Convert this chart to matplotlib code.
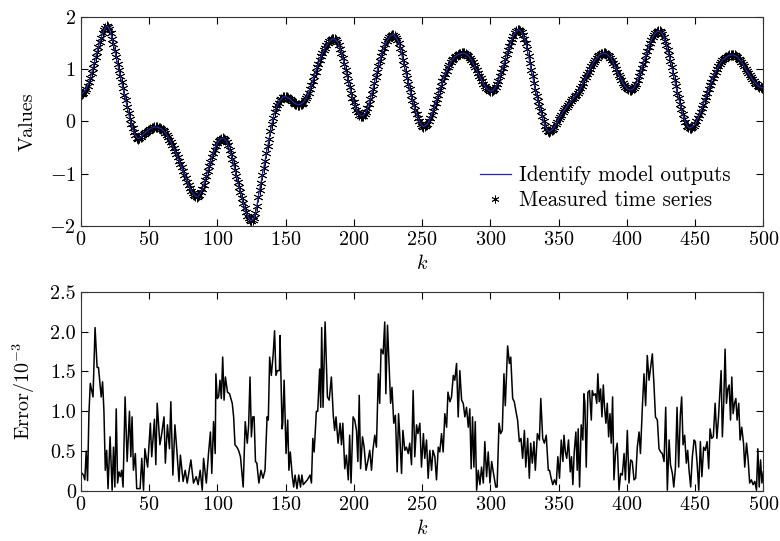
import numpy as np
import matplotlib
matplotlib.use("Agg")
import matplotlib.pyplot as plt

plt.rcParams['font.family'] = ['cmr10', 'DejaVu Serif']
plt.rcParams['mathtext.fontset'] = 'cm'
plt.rcParams['axes.formatter.use_mathtext'] = True
plt.rcParams['font.size'] = 14.5

# measured time series, one value per k = 0..500
measured = [
    0.52, 0.53, 0.55, 0.58, 0.62, 0.68, 0.75, 0.83, 0.92, 1.02,
    1.12, 1.23, 1.33, 1.43, 1.52, 1.60, 1.68, 1.74, 1.79, 1.82,
    1.81, 1.76, 1.68, 1.58, 1.47, 1.35, 1.23, 1.10, 0.98, 0.86,
    0.75, 0.63, 0.51, 0.40, 0.28, 0.16, 0.05, -0.05, -0.13, -0.21,
    -0.27, -0.31, -0.33, -0.32, -0.30, -0.27, -0.25, -0.22, -0.20, -0.18,
    -0.16, -0.14, -0.13, -0.12, -0.11, -0.11, -0.11, -0.12, -0.13, -0.14,
    -0.17, -0.19, -0.22, -0.26, -0.30, -0.35, -0.40, -0.46, -0.51, -0.57,
    -0.62, -0.69, -0.75, -0.82, -0.88, -0.95, -1.02, -1.08, -1.15, -1.22,
    -1.28, -1.33, -1.37, -1.40, -1.43, -1.44, -1.43, -1.40, -1.35, -1.29,
    -1.22, -1.13, -1.04, -0.95, -0.86, -0.78, -0.69, -0.61, -0.54, -0.47,
    -0.42, -0.38, -0.35, -0.33, -0.32, -0.33, -0.36, -0.40, -0.46, -0.54,
    -0.62, -0.72, -0.82, -0.93, -1.04, -1.15, -1.26, -1.36, -1.46, -1.56,
    -1.65, -1.73, -1.80, -1.85, -1.89, -1.90, -1.88, -1.84, -1.76, -1.62,
    -1.45, -1.31, -1.17, -1.03, -0.89, -0.75, -0.61, -0.47, -0.33, -0.19,
    -0.05, 0.07, 0.17, 0.25, 0.31, 0.36, 0.40, 0.43, 0.46, 0.47,
    0.47, 0.46, 0.45, 0.43, 0.41, 0.38, 0.36, 0.34, 0.33, 0.32,
    0.32, 0.33, 0.34, 0.36, 0.40, 0.44, 0.49, 0.55, 0.62, 0.70,
    0.78, 0.87, 0.95, 1.03, 1.10, 1.17, 1.24, 1.30, 1.36, 1.41,
    1.45, 1.49, 1.53, 1.55, 1.57, 1.58, 1.57, 1.55, 1.52, 1.46,
    1.39, 1.31, 1.21, 1.10, 0.99, 0.88, 0.77, 0.66, 0.55, 0.45,
    0.37, 0.29, 0.22, 0.17, 0.13, 0.11, 0.10, 0.11, 0.14, 0.18,
    0.25, 0.33, 0.42, 0.52, 0.62, 0.73, 0.84, 0.95, 1.05, 1.15,
    1.24, 1.33, 1.41, 1.47, 1.53, 1.57, 1.61, 1.64, 1.65, 1.66,
    1.64, 1.60, 1.56, 1.50, 1.40, 1.30, 1.18, 1.07, 0.95, 0.83,
    0.72, 0.61, 0.50, 0.40, 0.31, 0.22, 0.14, 0.06, 0.00, -0.05,
    -0.08, -0.10, -0.09, -0.07, -0.05, 0.00, 0.06, 0.13, 0.20, 0.27,
    0.35, 0.43, 0.51, 0.60, 0.68, 0.77, 0.85, 0.91, 0.97, 1.03,
    1.08, 1.13, 1.17, 1.20, 1.23, 1.25, 1.27, 1.28, 1.29, 1.30,
    1.30, 1.30, 1.29, 1.27, 1.25, 1.22, 1.18, 1.13, 1.08, 1.03,
    0.98, 0.92, 0.87, 0.82, 0.77, 0.72, 0.68, 0.64, 0.61, 0.59,
    0.58, 0.58, 0.59, 0.62, 0.66, 0.71, 0.78, 0.86, 0.94, 1.02,
    1.10, 1.19, 1.28, 1.36, 1.44, 1.52, 1.58, 1.64, 1.69, 1.72,
    1.74, 1.75, 1.73, 1.70, 1.65, 1.58, 1.50, 1.38, 1.25, 1.12,
    0.99, 0.86, 0.73, 0.60, 0.49, 0.39, 0.29, 0.19, 0.10, 0.01,
    -0.08, -0.14, -0.18, -0.20, -0.19, -0.17, -0.14, -0.10, -0.06, -0.01,
    0.05, 0.09, 0.13, 0.17, 0.21, 0.25, 0.28, 0.32, 0.35, 0.39,
    0.42, 0.45, 0.48, 0.51, 0.54, 0.58, 0.63, 0.68, 0.74, 0.80,
    0.85, 0.90, 0.95, 1.00, 1.05, 1.10, 1.14, 1.18, 1.21, 1.24,
    1.27, 1.28, 1.29, 1.30, 1.30, 1.29, 1.27, 1.25, 1.22, 1.17,
    1.12, 1.07, 1.01, 0.95, 0.89, 0.84, 0.79, 0.74, 0.70, 0.66,
    0.63, 0.61, 0.60, 0.60, 0.61, 0.63, 0.67, 0.72, 0.79, 0.86,
    0.94, 1.02, 1.10, 1.18, 1.26, 1.34, 1.42, 1.50, 1.56, 1.61,
    1.66, 1.69, 1.71, 1.72, 1.72, 1.70, 1.67, 1.62, 1.54, 1.45,
    1.36, 1.26, 1.15, 1.03, 0.91, 0.79, 0.67, 0.55, 0.44, 0.33,
    0.23, 0.14, 0.05, -0.02, -0.08, -0.11, -0.13, -0.12, -0.10, -0.08,
    -0.05, 0.00, 0.06, 0.12, 0.18, 0.25, 0.32, 0.40, 0.47, 0.55,
    0.62, 0.69, 0.76, 0.83, 0.89, 0.95, 1.00, 1.05, 1.09, 1.13,
    1.17, 1.19, 1.21, 1.23, 1.25, 1.26, 1.27, 1.27, 1.27, 1.26,
    1.25, 1.23, 1.20, 1.17, 1.13, 1.09, 1.05, 1.00, 0.96, 0.92,
    0.88, 0.84, 0.80, 0.77, 0.74, 0.71, 0.68, 0.66, 0.65, 0.64,
    0.64,
]
# identified model follows the measurement to within 1e-3
model_outputs = measured

# error (units of 1e-3) read at the vertices visible in the lower plot
err_k = [
    0, 2, 3, 4, 5, 6, 7, 9, 10.5, 12, 13, 15, 16, 17, 18, 19, 20, 21.5, 23, 24,
    25, 26, 27, 28, 29, 30, 31, 32.5, 34, 35.7, 36.7, 37.6, 38.6, 40, 41, 43.5, 44.7, 46, 47, 49,
    51, 52, 54, 55, 56, 58, 59, 61, 62, 63.5, 65, 66, 67.5, 69, 70.4, 72, 73, 75, 76.5, 78,
    80.7, 82.6, 84.6, 86, 87.5, 89, 90, 92, 93.6, 95, 96, 97.3, 98.5, 99, 100, 101, 102, 103, 104, 105,
    106, 107.5, 109, 111, 112, 113, 114.4, 115.6, 117, 119, 120.5, 122, 123, 124, 125, 126, 127, 128, 129, 130.5,
    132, 133.5, 135, 136.5, 137.4, 138.4, 139.6, 141, 142, 143, 144, 145.5, 146, 147.5, 148, 149, 150.4, 151.6, 152.5, 153.5,
    155, 156, 157, 158.4, 159.7, 161, 162, 163, 165, 166, 168, 169, 170, 171, 172.6, 173.6, 175, 175.8, 176.5, 177.5,
    179, 180.7, 182, 183.6, 185, 186, 187, 188.5, 190, 191, 192, 193.4, 194.6, 196, 197, 198, 199.5, 200.7, 202, 203,
    204, 205, 206.4, 207.6, 209, 210.5, 211.7, 213, 214, 215.4, 216.6, 218, 219, 220, 221.5, 222.7, 223.5, 224.7, 226, 227,
    228, 229.3, 230.5, 231.8, 232.8, 233.7, 235, 236, 237.4, 238.6, 239.9, 241, 242.3, 243.5, 244.7, 246, 247, 248.4, 249.6, 251,
    252, 253.3, 254.5, 255.7, 257, 258, 259.4, 260.6, 261.9, 263, 264.3, 265.5, 266.7, 268, 269, 270.4, 271.6, 272.9, 274, 275.3,
    276.5, 277.7, 279, 280.2, 281.4, 282.6, 283.9, 285, 286, 287, 288, 289, 290, 291.2, 292.4, 293.6, 294.9, 296, 297.3, 298.5,
    299.8, 301, 302, 304, 305, 306.4, 307.6, 308.8, 310, 311, 312.7, 314, 315, 316.4, 317.6, 318.8, 320, 321.3, 322.5, 323.7,
    325, 326, 327.4, 328.6, 329.6, 330.8, 332, 333, 334.5, 336, 337, 338.4, 339.6, 341, 342.5, 343.4, 344.6, 345.8, 347, 348.3,
    349.5, 350.7, 352, 353.2, 354, 355, 356, 357.3, 358.6, 359.5, 360.5, 361.5, 362.7, 363.7, 364.4, 365.4, 366.6, 367.8, 368.6, 369.3,
    370.3, 371.5, 372.7, 374, 374.7, 375.7, 377, 378, 378.8, 379.8, 380.8, 381.8, 382.8, 383.7, 384.7, 385.7, 386.7, 387.7, 388.6, 389.6,
    390.6, 391.8, 393, 394.3, 395.5, 396.7, 398, 399, 400.4, 401.6, 402.8, 404, 405.3, 406.5, 407.7, 409, 410, 411.4, 412.6, 413.8,
    415, 416.3, 417.5, 418.7, 420, 421, 422.4, 423.6, 424.8, 426, 427.3, 428.5, 429.7, 431, 432, 433.4, 434.4, 435.6, 436.8, 438,
    439.2, 440.2, 441.2, 442.4, 443.6, 444.6, 445.6, 446.8, 448, 449.3, 450.2, 451.5, 452.7, 453.9, 455, 456.3, 457.5, 458.8, 460, 461,
    462.2, 463.4, 464.7, 466, 467.2, 468.1, 469.1, 470, 471, 472, 473, 474, 475, 476, 476.9, 477.9, 478.9, 479.9, 480.8, 482,
    483, 484.2, 485.5, 486.4, 487.7, 488.9, 490, 491.3, 492.5, 493.8, 495, 496, 497, 498, 499, 500,
]
err_val = [
    0.24, 0.20, 0.14, 0.50, 0.13, 0.97, 1.35, 1.18, 2.05, 1.55, 1.55, 1.18, 1.37, 1.00, 0.26, 0.51, 0.03, 0.68, 0.01, 0.55,
    0.05, 1.03, 0.10, 0.24, 0.18, 0.26, 0.05, 1.18, 0.37, 1.00, 0.43, 0.93, 0.26, 0.47, 0.03, 0.03, 0.41, 0.01, 0.53, 0.30,
    0.85, 0.43, 0.90, 0.33, 1.10, 0.58, 0.68, 0.93, 0.35, 0.83, 0.53, 1.12, 0.20, 0.83, 0.51, 0.12, 0.45, 0.12, 0.26, 0.10,
    0.39, 0.10, 0.18, 0.08, 0.26, 0.01, 0.41, 0.10, 0.47, 0.74, 0.22, 0.87, 0.47, 1.47, 1.16, 1.18, 1.39, 1.16, 1.68, 1.14,
    1.43, 1.24, 1.22, 1.10, 0.93, 0.58, 0.55, 0.51, 0.43, 0.05, 0.87, 0.60, 0.83, 1.43, 0.68, 0.93, 0.93, 0.37, 0.35, 0.10,
    0.26, 0.16, 0.26, 0.93, 0.89, 1.68, 1.45, 1.72, 2.01, 1.45, 1.51, 1.51, 1.95, 0.78, 0.85, 1.39, 0.47, 0.89, 0.26, 0.49,
    0.18, 0.05, 0.20, 0.03, 0.20, 0.05, 0.20, 0.08, 0.12, 0.14, 0.20, 0.10, 0.66, 0.49, 1.00, 1.00, 1.53, 1.05, 2.05, 1.05,
    2.12, 1.18, 1.14, 1.43, 0.95, 0.76, 0.93, 0.60, 0.85, 0.58, 0.85, 0.28, 0.45, 0.14, 0.70, 0.10, 0.93, 0.89, 0.76, 0.37,
    1.20, 0.28, 0.68, 0.55, 0.26, 0.39, 0.51, 0.26, 0.51, 0.70, 0.55, 1.47, 1.10, 1.78, 1.72, 2.12, 1.22, 2.08, 1.51, 1.10,
    1.30, 0.85, 0.95, 0.24, 0.97, 0.70, 0.22, 0.76, 0.51, 0.55, 0.47, 0.60, 0.33, 1.26, 0.43, 0.83, 0.72, 0.85, 0.30, 0.72,
    0.41, 0.64, 0.16, 0.51, 0.26, 0.51, 0.43, 0.14, 0.55, 0.49, 0.72, 0.49, 0.97, 0.80, 1.24, 1.12, 1.18, 1.45, 1.39, 1.60,
    0.93, 1.51, 1.14, 1.10, 0.93, 1.05, 0.80, 1.03, 0.28, 0.93, 0.30, 0.87, 0.01, 0.26, 0.08, 0.30, 0.10, 0.62, 0.18, 0.49,
    0.10, 0.37, 0.26, 0.05, 0.05, 0.85, 0.72, 0.76, 1.47, 1.07, 1.82, 1.60, 1.68, 1.16, 1.12, 1.00, 0.89, 0.62, 0.66, 0.41,
    0.76, 0.30, 0.66, 0.16, 0.60, 0.35, 0.62, 0.26, 0.72, 0.64, 1.16, 0.66, 0.60, 0.70, 0.26, 0.26, 0.16, 0.08, 0.14, 0.08,
    0.43, 0.16, 0.64, 0.37, 0.70, 0.49, 0.41, 0.64, 0.24, 0.43, 0.08, 0.49, 0.74, 0.26, 0.78, 0.05, 0.83, 0.64, 1.22, 1.10,
    0.30, 1.24, 1.26, 0.89, 1.26, 1.20, 1.22, 1.10, 1.47, 1.12, 1.28, 0.93, 1.33, 1.05, 0.85, 1.10, 0.68, 0.97, 0.60, 1.18,
    0.14, 0.49, 0.60, 0.01, 0.22, 0.20, 0.47, 0.14, 0.76, 0.10, 0.39, 0.37, 0.14, 0.16, 0.55, 0.74, 0.47, 1.05, 1.47, 1.07,
    1.70, 1.39, 1.55, 1.72, 1.30, 0.93, 0.89, 0.53, 0.49, 0.47, 0.37, 1.05, 0.01, 0.64, 0.33, 0.22, 0.05, 0.28, 1.05, 0.30,
    0.95, 1.18, 0.58, 0.70, 0.35, 0.51, 0.26, 0.05, 0.43, 0.64, 0.62, 0.35, 0.01, 0.62, 0.18, 0.55, 0.51, 0.62, 0.28, 0.78,
    0.66, 0.68, 1.10, 0.66, 0.93, 1.22, 1.51, 0.68, 1.10, 1.78, 1.10, 1.28, 1.33, 0.89, 1.43, 0.97, 1.10, 1.16, 0.89, 1.10,
    0.64, 0.80, 0.60, 0.30, 0.60, 0.39, 0.10, 0.14, 0.08, 0.12, 0.01, 0.53, 0.05, 0.39, 0.10, 0.24,
]

k = np.arange(len(measured))

fig = plt.figure(figsize=(7.8, 5.41), dpi=100)
ax1 = fig.add_axes([0.1035, 0.5823, 0.8751, 0.3868])
ax2 = fig.add_axes([0.1035, 0.0924, 0.8751, 0.3684])

ax1.plot(k, measured, linestyle='none', marker=(6, 2, 0), ms=7, mew=0.6,
         color='k', label='Measured time series')
ax1.plot(k, model_outputs, color='#2525b0', lw=0.9,
         label='Identify model outputs')
ax1.set_xlim(0, 500)
ax1.set_ylim(-2, 2)
ax1.set_yticks([-2, -1, 0, 1, 2])
ax1.set_ylabel('Values')
ax1.set_xlabel('$k$', labelpad=4)
h, l = ax1.get_legend_handles_labels()
leg = ax1.legend(h[::-1], l[::-1], loc='lower right', frameon=False,
                 bbox_to_anchor=(0.98, -0.015), handlelength=1.45,
                 handletextpad=0.4, labelspacing=0.25, markerscale=0.8,
                 fontsize=15.2)

ax2.plot(err_k, err_val, color='k', lw=1.1)
ax2.set_xlim(0, 500)
ax2.set_ylim(0, 2.5)
ax2.set_yticks([0, 0.5, 1.0, 1.5, 2.0, 2.5])
ax2.set_yticklabels(['0', '0.5', '1.0', '1.5', '2.0', '2.5'])
ax2.set_ylabel('Error/$10^{-3}$')
ax2.set_xlabel('$k$', labelpad=4)

for ax in (ax1, ax2):
    ax.set_xticks(np.arange(0, 501, 50))
    ax.tick_params(direction='in', top=True, right=True, length=5,
                   width=0.8)
    ax.yaxis.set_label_coords(-0.064, 0.5)
    for s in ax.spines.values():
        s.set_linewidth(0.8)
        s.set_color('#333333')

fig.savefig('out.png', dpi=100)
